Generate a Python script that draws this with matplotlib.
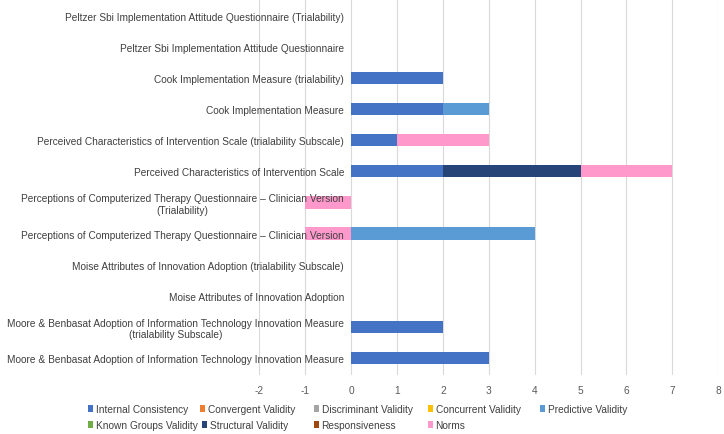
import matplotlib
matplotlib.use("Agg")
import matplotlib.pyplot as plt
import numpy as np

plt.rcParams["font.family"] = ["Liberation Sans Narrow", "Liberation Sans", "DejaVu Sans"]
plt.rcParams["axes.unicode_minus"] = False

# categories, top to bottom as in the reference
CATEGORIES = [
    "Peltzer Sbi Implementation Attitude Questionnaire (Trialability)",
    "Peltzer Sbi Implementation Attitude Questionnaire",
    "Cook Implementation Measure (trialability)",
    "Cook Implementation Measure",
    "Perceived Characteristics of Intervention Scale (trialability Subscale)",
    "Perceived Characteristics of Intervention Scale",
    "Perceptions of Computerized Therapy Questionnaire \u2013 Clinician Version\n(Trialability)",
    "Perceptions of Computerized Therapy Questionnaire \u2013 Clinician Version",
    "Moise Attributes of Innovation Adoption (trialability Subscale)",
    "Moise Attributes of Innovation Adoption",
    "Moore & Benbasat Adoption of Information Technology Innovation Measure\n(trialability Subscale)",
    "Moore & Benbasat Adoption of Information Technology Innovation Measure",
]

SERIES = [
    "Internal Consistency", "Convergent Validity", "Discriminant Validity",
    "Concurrent Validity", "Predictive Validity", "Known Groups Validity",
    "Structural Validity", "Responsiveness", "Norms",
]

internal_consistency  = [0, 0, 2, 2, 1, 2, 0, 0, 0, 0, 2, 3]
convergent_validity   = [0] * 12
discriminant_validity = [0] * 12
concurrent_validity   = [0] * 12
predictive_validity   = [0, 0, 0, 1, 0, 0, 0, 4, 0, 0, 0, 0]
known_groups_validity = [0] * 12
structural_validity   = [0, 0, 0, 0, 0, 3, 0, 0, 0, 0, 0, 0]
responsiveness        = [0] * 12
norms                 = [0, 0, 0, 0, 2, 2, -1, -1, 0, 0, 0, 0]

COLORS = ["#4472C4", "#ED7D31", "#A5A5A5", "#FFC000", "#5B9BD5",
          "#70AD47", "#264478", "#9E480E", "#FF99CC"]

X_TICKS = [-2, -1, 0, 1, 2, 3, 4, 5, 6, 7, 8]

# legend entry anchors in pixels (Excel flows the legend in two rows)
LEGEND_XY = [(88, 410), (200, 410), (314, 410), (428, 410), (540, 410),
             (88, 426), (202, 426), (314, 426), (428, 426)]

values = [internal_consistency, convergent_validity, discriminant_validity,
          concurrent_validity, predictive_validity, known_groups_validity,
          structural_validity, responsiveness, norms]

FS = 7.3
W, H = 724, 435

fig = plt.figure(figsize=(W / 100, H / 100), dpi=100)
ax = fig.add_axes([0.358, 0.136, 0.634, 0.864])
# category labels sit next to the vertical axis at x = 0
ax.spines["left"].set_position(("data", 0))
ax.spines["left"].set_color("none")
for side in ["top", "right", "bottom"]:
    ax.spines[side].set_visible(False)

n = len(CATEGORIES)
y = np.arange(n)[::-1]
pos_left = np.zeros(n)
neg_left = np.zeros(n)
handles = []
for name, vals, color in zip(SERIES, values, COLORS):
    v = np.array(vals, dtype=float)
    left = np.where(v >= 0, pos_left, neg_left)
    h = ax.barh(y, v, left=left, height=0.39, color=color, label=name, zorder=2)
    handles.append(h)
    pos_left += np.clip(v, 0, None)
    neg_left += np.clip(v, None, 0)

ax.set_xlim(-2, 8)
ax.set_ylim(-0.55, n - 0.45)
ax.set_xticks(X_TICKS)
ax.set_yticks(y)
ax.set_yticklabels(CATEGORIES, multialignment="center")
ax.tick_params(axis="x", length=0, pad=7, labelsize=FS, labelcolor="#595959")
ax.tick_params(axis="y", length=0, pad=5, labelsize=FS, labelcolor="#404040")
ax.grid(axis="x", color="#D9D9D9", linewidth=0.8)
ax.set_axisbelow(True)
ax.yaxis.set_zorder(3)  # labels over the negative Norms bars, as in Excel

for h, name, (px, py) in zip(handles, SERIES, LEGEND_XY):
    leg = fig.legend([h], [name], loc="center left",
                     bbox_to_anchor=(px / W, 1 - py / H),
                     fontsize=FS, frameon=False, handlelength=0.45, handleheight=0.6,
                     handletextpad=0.3, borderpad=0, borderaxespad=0)
    for t in leg.get_texts():
        t.set_color("#404040")

fig.savefig("out.png", dpi=100)
